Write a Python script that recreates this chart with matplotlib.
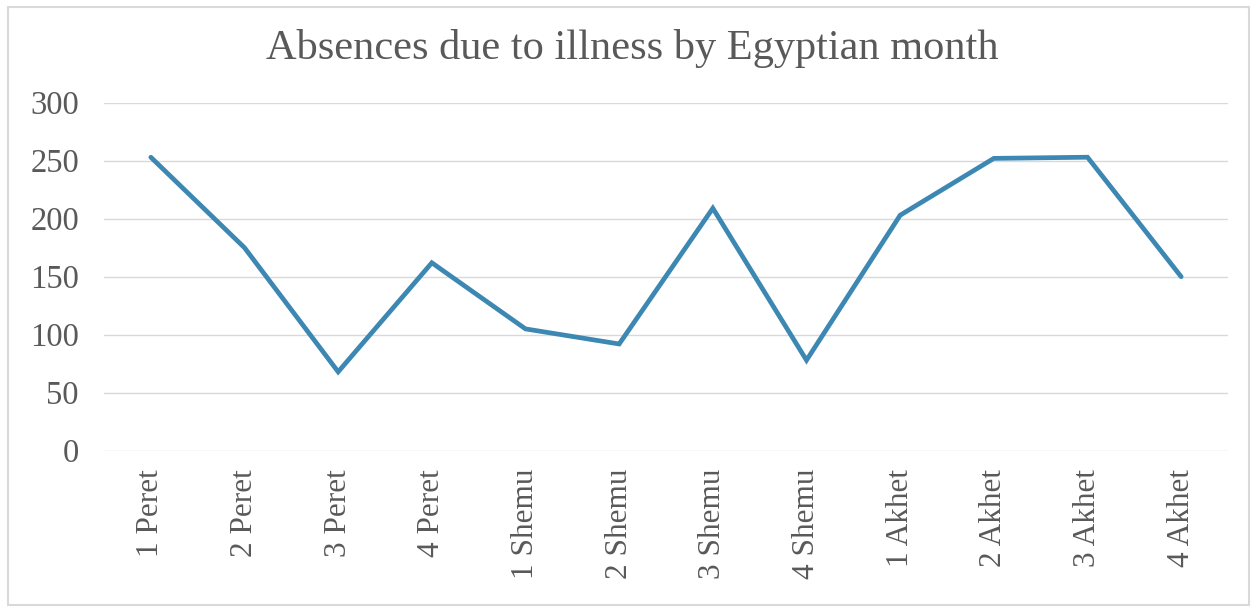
import matplotlib
matplotlib.use("Agg")
import matplotlib.pyplot as plt
from matplotlib.patches import Rectangle

months = ["1 Peret", "2 Peret", "3 Peret", "4 Peret",
          "1 Shemu", "2 Shemu", "3 Shemu", "4 Shemu",
          "1 Akhet", "2 Akhet", "3 Akhet", "4 Akhet"]
absences = [253, 175, 68, 162, 105, 92, 209, 78, 203, 252, 253, 150]
y_ticks = [0, 50, 100, 150, 200, 250, 300]

text_color = "#595959"
line_color = "#3D87B3"
grid_color = "#D9D9D9"
serif = ["Liberation Serif", "DejaVu Serif"]

fig = plt.figure(figsize=(12.53, 6.07), dpi=100)
ax = fig.add_axes([104 / 1253, 1 - 450.7 / 607, (1228 - 104) / 1253, 348 / 607])

x = list(range(len(months)))
ax.plot(x, absences, color=line_color, linewidth=3.4, solid_joinstyle="miter",
        solid_capstyle="round", zorder=3)

ax.set_xlim(-0.5, len(months) - 0.5)
ax.set_ylim(0, 300)
ax.set_yticks(y_ticks)
ax.set_xticks(x)
ax.set_xticklabels(months, rotation=90, family=serif, fontsize=22.5, color=text_color)
ax.set_yticklabels([str(v) for v in y_ticks], family=serif, fontsize=23.5, color=text_color)
ax.tick_params(axis="both", length=0)
ax.tick_params(axis="y", pad=18)
ax.tick_params(axis="x", pad=13)

ax.grid(axis="y", color=grid_color, linewidth=1.0)
ax.set_axisbelow(True)
for s in ax.spines.values():
    s.set_visible(False)

fig.text(0.5 + 6 / 1253, 1 - 49 / 607, "Absences due to illness by Egyptian month",
         ha="center", va="center", family=serif, fontsize=30.5, color=text_color)

# chart border
fig.patches.append(Rectangle((8 / 1253, 2 / 607), 1241 / 1253, 598 / 607,
                             transform=fig.transFigure, fill=False,
                             edgecolor="#D9D9D9", linewidth=1.5))

fig.savefig("out.png", dpi=100, facecolor="white")
